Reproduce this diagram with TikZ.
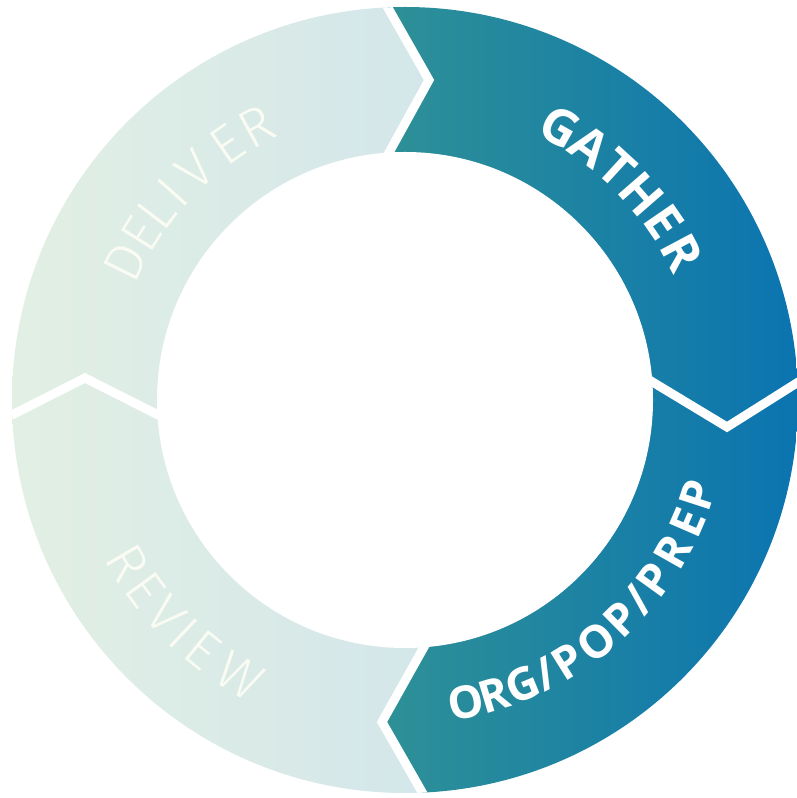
\documentclass[tikz,border=0pt]{standalone}
\usepackage{fontspec}
\setmainfont{Fira Sans}
\newfontfamily\lightfam{Fira Sans Light}
\newfontfamily\darkfam{Open Sans}
\definecolor{lightL}{RGB}{227,240,227}
\definecolor{lightR}{RGB}{211,230,234}
\definecolor{darkL}{RGB}{47,145,150}
\definecolor{darkR}{RGB}{8,114,178}
\definecolor{lighttext}{RGB}{250,252,244}
\newcommand\darkfont{\darkfam\fontsize{50}{56}\selectfont\bfseries}
\newcommand\orgfont{\darkfam\fontsize{45}{52}\selectfont\bfseries}
\newcommand\lightfont{\lightfam\fontsize{54}{60}\selectfont}
\newcommand\myslash{/}
\tikzset{
  darktxt/.style={text=white, font=\darkfont, inner sep=0pt, anchor=base},
  orgtxt/.style={text=white, font=\orgfont, inner sep=0pt, anchor=base},
  lighttxt/.style={text=lighttext, font=\lightfont, inner sep=0pt, anchor=base},
  gapline/.style={draw=white, line width=9pt, line join=miter},
}
\begin{document}
\begin{tikzpicture}[x=1pt,y=1pt]
\useasboundingbox (0,0) rectangle (797,798);
\coordinate (C) at (405,398);
% ring segments
\begin{scope}
  \clip (C) circle (393pt);
  \path[left color=lightL, right color=lightR]
    (375,813) -- (429,718) -- (375,620) -- (438,176) -- (382,76) -- (438,-22)
    -- (-30,-22) -- (-30,813) -- cycle;
  \path[left color=darkL, right color=darkR]
    (375,813) -- (429,718) -- (375,620) -- (438,176) -- (382,76) -- (438,-22)
    -- (830,-22) -- (830,813) -- cycle;
  % white chevron gaps
  \coordinate (t1) at (375,813); \coordinate (t2) at (429,718); \coordinate (t3) at (375,620);
  \coordinate (r1) at (631,429); \coordinate (r2) at (727,371); \coordinate (r3) at (819,429);
  \coordinate (b1) at (438,176); \coordinate (b2) at (382,76);  \coordinate (b3) at (438,-22);
  \coordinate (l1) at (-10,372); \coordinate (l2) at (85,420);  \coordinate (l3) at (180,372);
  \draw[gapline] (t1) -- (t2) -- (t3);
  \draw[gapline] (r1) -- (r2) -- (r3);
  \draw[gapline] (b1) -- (b2) -- (b3);
  \draw[gapline] (l1) -- (l2) -- (l3);
\end{scope}
\fill[white] (C) circle (248pt);
% labels
\begin{scope}[shift={(C)}]
  \foreach \a/\t/\n in {60.5/G/ga1, 54/A/ga2, 47.5/T/ga3, 41/H/ga4, 34.5/E/ga5, 28/R/ga6}
    \node[darktxt, rotate=\a-90] (\n) at (\a:296pt) {\t};
  \foreach \a/\t/\n in {-78.6/O/op1, -73.2/R/op2, -67.6/G/op3, -62.8/\myslash/op4, -58/P/op5,
      -51.6/O/op6, -45.3/P/op7, -40.6/\myslash/op8, -35.8/P/op9, -29.5/R/op10, -23.4/E/op11, -18/P/op12}
    \node[orgtxt, rotate=\a+90] (\n) at (\a:324pt) {\t};
  \foreach \a/\t/\n in {153.7/D/de1, 147.8/E/de2, 142.8/L/de3, 138.3/I/de4, 132.4/V/de5, 124.9/E/de6, 118.5/R/de7}
    \node[lighttxt, rotate=\a-90] (\n) at (\a:293pt) {\t};
  \foreach \a/\t/\n in {210.5/R/re1, 216.2/E/re2, 222.1/V/re3, 226.5/I/re4, 231/E/re5, 239/W/re6}
    \node[lighttxt, rotate=\a+90] (\n) at (\a:340pt) {\t};
\end{scope}
\end{tikzpicture}
\end{document}
